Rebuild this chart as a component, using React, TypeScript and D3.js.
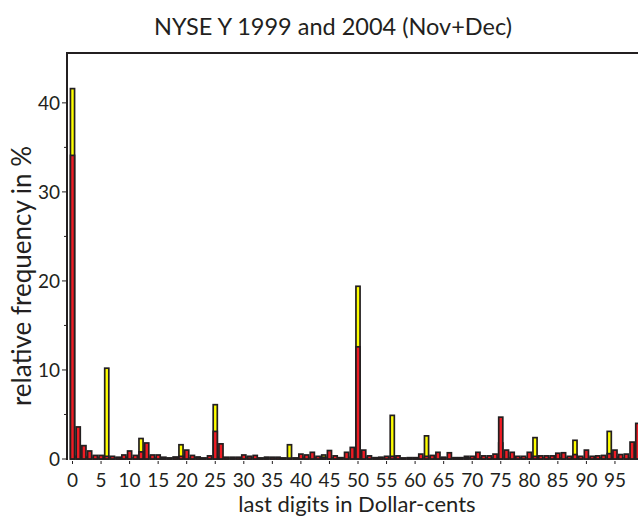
import * as d3 from 'd3';

// last two digits of the price in cents
const cents = d3.range(100);

// NYSE 1999 (Nov+Dec), relative frequency in %
const freq1999 = [
  41.6, 0.3, 0.2, 0.3, 0.1, 0.1, 10.2, 0.1, 0.1, 0.2,
  0.1, 0.1, 2.3, 0.3, 0.1, 0.1, 0.2, 0.1, 0.2, 1.6,
  0.1, 0.1, 0.2, 0.1, 0.1, 6.1, 0.2, 0.1, 0.2, 0.1,
  0.1, 0.3, 0.1, 0.1, 0.2, 0.1, 0.1, 0.1, 1.6, 0.1,
  0.1, 0.2, 0.1, 0.1, 0.45, 0.1, 0.1, 0.1, 0.1, 0.2,
  19.4, 0.2, 0.1, 0.1, 0.1, 0.1, 4.9, 0.1, 0.1, 0.1,
  0.1, 0.1, 2.6, 0.2, 0.1, 0.1, 0.1, 0.1, 0.1, 0.3,
  0.1, 0.1, 0.1, 0.1, 0.1, 1.8, 0.2, 0.1, 0.1, 0.1,
  0.1, 2.4, 0.1, 0.1, 0.1, 0.1, 0.1, 0.1, 2.1, 0.1,
  0.1, 0.1, 0.1, 0.1, 3.1, 0.2, 0.1, 0.1, 0.1, 0.2,
];

// NYSE 2004 (Nov+Dec), relative frequency in %
const freq2004 = [
  34.1, 3.6, 1.5, 0.9, 0.4, 0.4, 0.3, 0.3, 0.2, 0.45,
  0.9, 0.4, 0.8, 1.8, 0.45, 0.45, 0.1, 0.1, 0.2, 0.3,
  1.0, 0.4, 0.2, 0.1, 0.35, 3.1, 1.7, 0.2, 0.1, 0.2,
  0.45, 0.25, 0.4, 0.1, 0.15, 0.2, 0.2, 0.1, 0.1, 0.1,
  0.55, 0.45, 0.75, 0.3, 0.2, 0.95, 0.35, 0.15, 0.75, 1.3,
  12.6, 1.0, 0.35, 0.15, 0.2, 0.3, 0.3, 0.35, 0.1, 0.15,
  0.15, 0.55, 0.3, 0.4, 0.75, 0.2, 0.7, 0.15, 0.15, 0.15,
  0.3, 0.75, 0.35, 0.35, 0.55, 4.7, 1.0, 0.75, 0.3, 0.3,
  0.75, 0.3, 0.35, 0.35, 0.35, 0.65, 0.7, 0.3, 0.5, 0.3,
  1.0, 0.3, 0.35, 0.4, 0.6, 1.0, 0.5, 0.55, 1.9, 4.0,
];

const xTicks = d3.range(0, 100, 5);
const yTicks = [0, 10, 20, 30, 40];
const yMinorTicks = [5, 15, 25, 35];

const font = 'Lato, "Open Sans", sans-serif';
const ink = '#231f20';

export default function App() {
  const width = 638;
  const height = 518;
  const left = 67;
  const top = 53;
  const bottom = 459;

  const x = d3.scaleLinear().domain([0, 99]).range([72.5, 637.8]);
  const y = d3.scaleLinear().domain([0, 45.6]).range([bottom, top]);
  const barW = 4.1;

  return (
    <div style={{ position: 'fixed', left: 0, top: 0 }}>
      <svg width={width} height={height} style={{ display: 'block', background: '#fff' }}>
        <text x={333} y={35} textAnchor="middle" fontFamily={font} fontSize={23.5} fill={ink}>
          NYSE Y 1999 and 2004 (Nov+Dec)
        </text>

        {/* 1999 behind, 2004 in front */}
        <g stroke={ink} strokeWidth={1.7}>
          {cents.map((c) => (
            <rect
              key={'y' + c}
              x={x(c) - barW / 2}
              y={y(freq1999[c])}
              width={barW}
              height={y(0) - y(freq1999[c])}
              fill="#ffff00"
            />
          ))}
          {cents.map((c) => (
            <rect
              key={'r' + c}
              x={x(c) - barW / 2}
              y={y(freq2004[c])}
              width={barW}
              height={y(0) - y(freq2004[c])}
              fill="#ee1c24"
            />
          ))}
        </g>

        {/* frame */}
        <line x1={left} x2={left} y1={top} y2={bottom + 1} stroke={ink} strokeWidth={2} />
        <line x1={left - 1} x2={width} y1={top} y2={top} stroke={ink} strokeWidth={2} />

        {yTicks.map((t) => (
          <g key={'yt' + t}>
            <line x1={left - 5} x2={left} y1={y(t)} y2={y(t)} stroke={ink} strokeWidth={1} />
            <text
              x={left - 7}
              y={y(t)}
              dy="0.36em"
              textAnchor="end"
              fontFamily={font}
              fontSize={19}
              fill={ink}
            >
              {t}
            </text>
          </g>
        ))}
        {yMinorTicks.map((t) => (
          <line key={'ym' + t} x1={left - 3} x2={left} y1={y(t)} y2={y(t)} stroke={ink} strokeWidth={1} />
        ))}

        {xTicks.map((t) => (
          <g key={'xt' + t}>
            <line x1={x(t)} x2={x(t)} y1={bottom + 2} y2={bottom + 5} stroke={ink} strokeWidth={1} />
            <text x={x(t)} y={487} textAnchor="middle" fontFamily={font} fontSize={19} fill={ink}>
              {t}
            </text>
          </g>
        ))}

        <text x={357} y={512} textAnchor="middle" fontFamily={font} fontSize={22} fill={ink}>
          last digits in Dollar-cents
        </text>
        <text
          transform="translate(31,276) rotate(-90)"
          textAnchor="middle"
          fontFamily={font}
          fontSize={26}
          fill={ink}
        >
          relative frequency in %
        </text>
      </svg>
    </div>
  );
}
